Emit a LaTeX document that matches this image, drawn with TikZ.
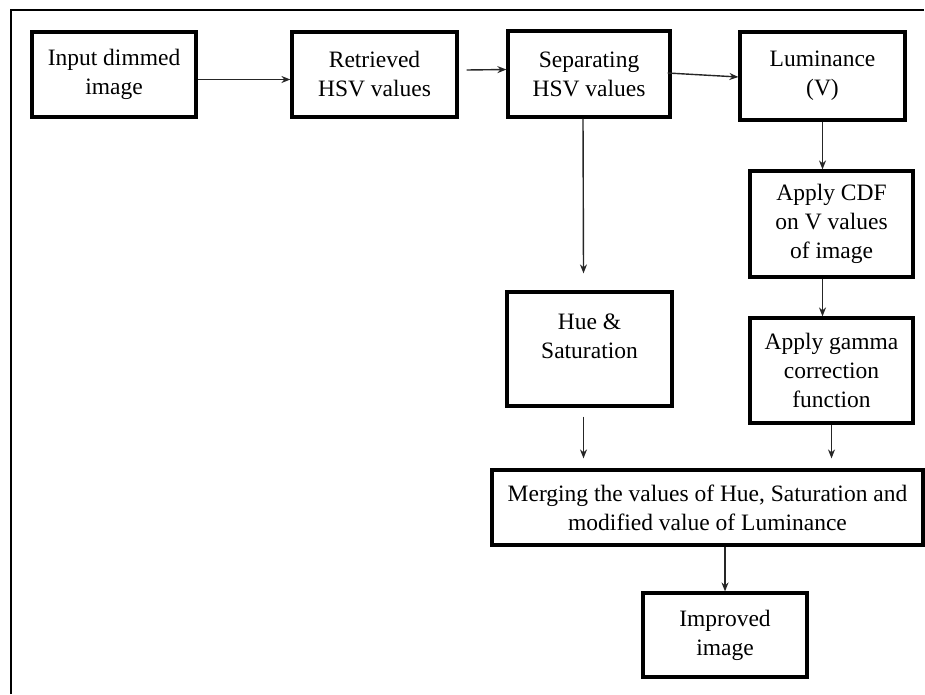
\documentclass[tikz,border=0pt]{standalone}
\usepackage{fontspec}
\setmainfont{Liberation Serif}
\usepackage{tikz}
\usetikzlibrary{positioning,arrows.meta}

\begin{document}
\begin{tikzpicture}[
  x=1pt, y=-1pt,
  box/.style={draw, line width=3.2pt, align=center, inner sep=0pt, font=\fontsize{23.5}{29}\selectfont},
  arr/.style={-{Stealth[length=9pt,width=7pt]}, line width=1.4pt, draw=black!85}
]
\useasboundingbox (0,0) rectangle (925,694);
% outer frame (top and left only)
\draw[line width=2.8pt] (11,694) -- (11,10) -- (924,10);
% top row
\node[box, minimum width=164pt, minimum height=85pt] (in) at (114,74.5) {Input dimmed\\image};
\node[box, minimum width=165pt, minimum height=85pt] (ret) at (374.5,74.5) {Retrieved\\HSV values};
\node[box, minimum width=162pt, minimum height=86pt] (sep) at (589,74) {Separating\\HSV values};
\node[box, minimum width=165pt, minimum height=88pt] (lum) at (822.5,76) {Luminance\\(V)};
% right column
\node[box, minimum width=163pt, minimum height=106pt] (cdf) at (831.5,224) {Apply CDF\\on V values\\of image};
\node[box, minimum width=163pt, minimum height=105pt] (gam) at (831.5,370.5) {Apply gamma\\correction\\function};
\node[box, minimum width=165pt, minimum height=114pt, text depth=26pt] (hue) at (589.5,349) {Hue \&\\Saturation};
% bottom
\node[box, minimum width=431pt, minimum height=75pt] (mrg) at (707.5,507.5) {Merging the values of Hue, Saturation and\\modified value of Luminance};
\node[box, minimum width=164pt, minimum height=84pt] (imp) at (725,635) {Improved\\image};
\coordinate (hs) at (hue.south |- mrg.north);
\coordinate (gs) at (gam.south |- mrg.north);
% arrows
\draw[arr] ([yshift=-5pt]in.east) -- ([yshift=-5pt]ret.west);
\draw[arr] ([xshift=8pt,yshift=4.5pt]ret.east) -- ([yshift=4.5pt]sep.west);
\draw[arr] ([xshift=-4pt,yshift=1pt]sep.east) -- ([yshift=-1pt]lum.west);
\draw[arr] ([xshift=-6pt]sep.south) -- ([xshift=-6pt,yshift=17pt]hue.north);
\draw[arr] (lum.south) -- (lum.south |- cdf.north);
\draw[arr] ([xshift=-9pt]cdf.south) -- ([xshift=-9pt]gam.north);
\draw[arr] ([xshift=-6pt,yshift=-9pt]hue.south) -- ([xshift=-6pt,yshift=10pt]hs);
\draw[arr] (gam.south) -- ([yshift=10pt]gs);
\draw[arr] (imp.north |- mrg.south) -- (imp.north);
\end{tikzpicture}
\end{document}
